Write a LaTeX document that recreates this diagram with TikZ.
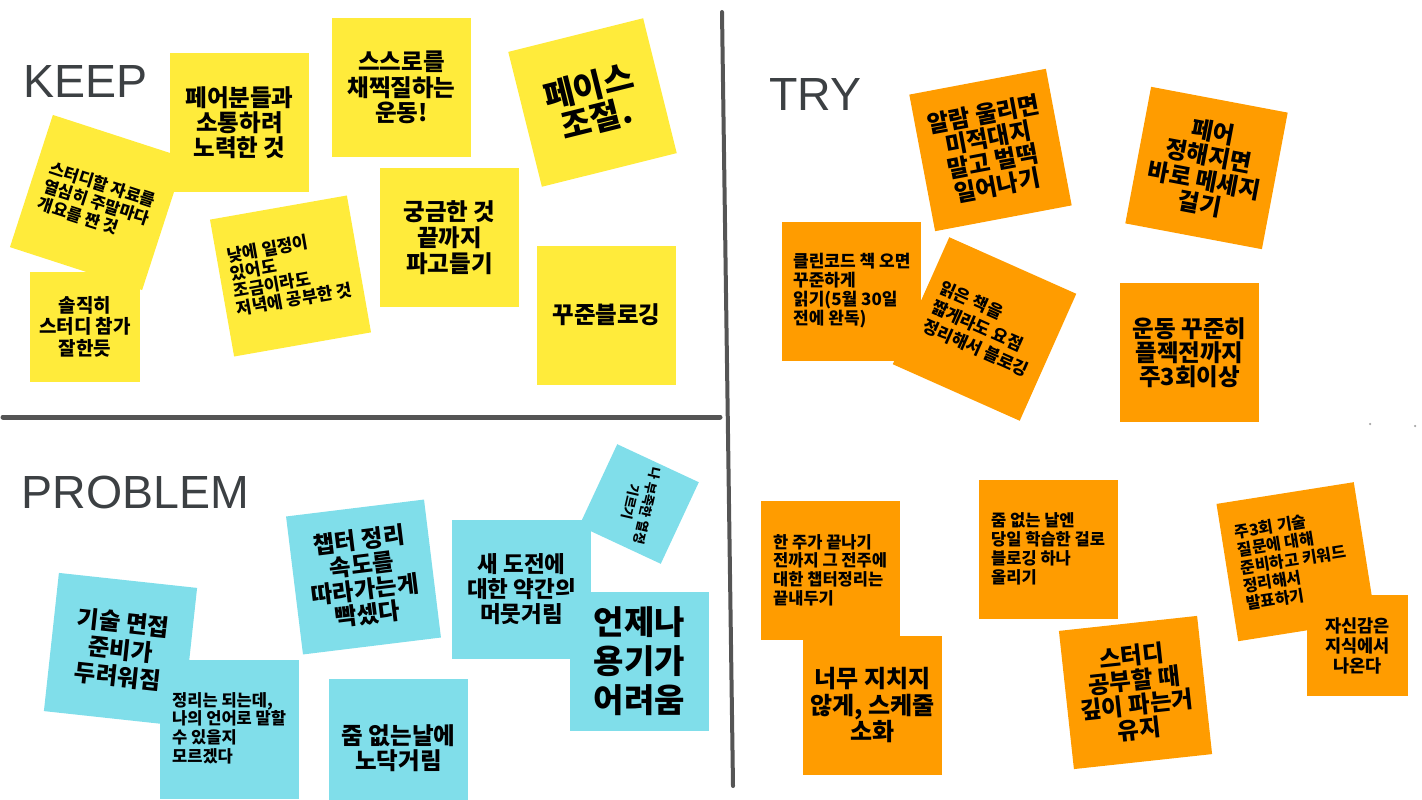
\documentclass[tikz,border=0pt]{standalone}
\usepackage{fontspec}
\setmainfont{Noto Sans CJK KR}
\newfontfamily\titlefont{Liberation Sans}
\definecolor{ky}{HTML}{FFEB3B}
\definecolor{to}{HTML}{FF9C00}
\definecolor{pc}{HTML}{80DEEA}
\definecolor{ttl}{HTML}{3C4043}
\definecolor{divc}{HTML}{555555}
\newcommand\nfs[2]{\fontsize{#1}{#2}\selectfont}
\tikzset{
  sticky/.style={minimum size=139pt, inner sep=0pt, outer sep=0pt, align=center, font=\bfseries},
  ltext/.style={align=left, inner sep=0pt, anchor=west},
  title/.style={font=\titlefont\nfs{46.5}{50}, text=ttl, anchor=base west, inner sep=0pt},
  divider/.style={draw=divc, line width=4pt, line cap=round},
}
\begin{document}
\begin{tikzpicture}[x=1pt,y=-1pt]
\useasboundingbox (0,0) rectangle (1422,800);
\clip (0,0) rectangle (1422,800);
% dividers
\coordinate (vtop) at (722,12);
\coordinate (vbot) at (733,786);
\draw[divider] (vtop) -- (vbot);
\coordinate (hl) at (3,417);
\coordinate (hr) at (720,417);
\draw[divider, line width=5pt] (hl) -- (hr);
% titles
\node[title] (keep) at (23.5,97) {KEEP};
\node[title] (try) at (769,110.5) {TRY};
\node[title] (problem) at (21.5,508.3) {PROBLEM};
% ---------- KEEP ----------
\node[sticky, fill=ky, font=\bfseries\nfs{23.5}{25}] (k1) at (239.5,122.5) {페어분들과\\소통하려\\노력한 것};
\begin{scope}[shift={(97.5,202.5)}, rotate=-18, transform shape]
  \node[sticky, fill=ky] (k2) at (0,0) {};
  \node[ltext, font=\bfseries\nfs{16.5}{18.5}] (k2t) at (-56,0) {스터디할 자료를\\열심히 주말마다\\개요를 짠 것};
\end{scope}
\node[sticky, fill=ky, minimum size=110pt, font=\bfseries\nfs{19}{21.5}] (k3) at (85,326.5) {솔직히\\스터디 참가\\잘한듯};
\node[sticky, fill=ky, font=\bfseries\nfs{23.5}{25.5}] (k4) at (401.5,87.5) {스스로를\\채찍질하는\\운동!};
\begin{scope}[shift={(592.5,102.5)}, rotate=14, transform shape]
  \node[sticky, fill=ky, font=\bfseries\nfs{33}{33.5}] (k5) at (0,0) {페이스\\조절.};
\end{scope}
\begin{scope}[shift={(290.5,276)}, rotate=10, transform shape]
  \node[sticky, fill=ky] (k6) at (0,0) {};
  \node[ltext, font=\bfseries\nfs{17}{18}] (k6t) at (-59,-3.4) {낮에 일정이\\있어도\\조금이라도\\저녁에 공부한 것};
\end{scope}
\node[sticky, fill=ky, font=\bfseries\nfs{23.5}{26}] (k7) at (449.5,237.5) {궁금한 것\\끝까지\\파고들기};
\node[sticky, fill=ky, font=\bfseries\nfs{23.5}{25}] (k8) at (606.5,315) {꾸준블로깅};
% ---------- TRY ----------
\begin{scope}[shift={(990.5,150)}, rotate=10.7, transform shape]
  \node[sticky, fill=to, font=\bfseries\nfs{23.5}{24}] (t1) at (0,0) {알람 울리면\\미적대지\\말고 벌떡\\일어나기};
\end{scope}
\begin{scope}[shift={(1206.5,168)}, rotate=-10.7, transform shape]
  \node[sticky, fill=to, font=\bfseries\nfs{23.5}{24.5}] (t2) at (0,0) {페어\\정해지면\\바로 메세지\\걸기};
\end{scope}
\node[sticky, fill=to] (t3) at (851.5,291.5) {};
\node[ltext, font=\bfseries\nfs{17}{19}] (t3t) at (793,290.5) {클린코드 책 오면\\꾸준하게\\읽기(5월 30일\\전에 완독)};
\begin{scope}[shift={(984.5,329)}, rotate=-24, transform shape]
  \node[sticky, fill=to] (t4) at (0,0) {};
  \node[ltext, font=\bfseries\nfs{17}{21}] (t4t) at (-57,0) {읽은 책을\\짧게라도 요점\\정리해서 블로깅};
\end{scope}
\node[sticky, fill=to, font=\bfseries\nfs{23.5}{24}] (t5) at (1189.5,352.5) {운동 꾸준히\\플젝전까지\\주3회이상};
\node[sticky, fill=to] (t6) at (830.5,570) {};
\node[ltext, font=\bfseries\nfs{16.5}{18.7}] (t6t) at (773,570) {한 주가 끝나기\\전까지 그 전주에\\대한 챕터정리는\\끝내두기};
\node[sticky, fill=to, font=\bfseries\nfs{24}{26.5}] (t7) at (872.5,705.5) {너무 지치지\\않게, 스케줄\\소화};
\node[sticky, fill=to] (t8) at (1048.5,549.5) {};
\node[ltext, font=\bfseries\nfs{16.5}{19}] (t8t) at (991,548.7) {줌 없는 날엔\\당일 학습한 걸로\\블로깅 하나\\올리기};
\begin{scope}[shift={(1135.5,692.5)}, rotate=6.2, transform shape]
  \node[sticky, fill=to, font=\bfseries\nfs{23.5}{24.5}] (t9) at (0,0) {스터디\\공부할 때\\깊이 파는거\\유지};
\end{scope}
\begin{scope}[shift={(1296,561.7)}, rotate=9, transform shape]
  \node[sticky, fill=to] (t10) at (0,0) {};
  \node[ltext, font=\bfseries\nfs{16}{18.1}] (t10t) at (-56,-2.2) {주3회 기술\\질문에 대해\\준비하고 키워드\\정리해서\\발표하기};
\end{scope}
\node[sticky, fill=to, minimum size=101pt, font=\bfseries\nfs{17.5}{20}] (t11) at (1357.5,645.5) {자신감은\\지식에서\\나온다};
\node[circle, fill=gray!70, inner sep=0pt, minimum size=2.5pt] (d1) at (1370,424) {};
\node[circle, fill=gray!70, inner sep=0pt, minimum size=2.5pt] (d2) at (1415,426) {};
% ---------- PROBLEM ----------
\begin{scope}[shift={(120.5,649.5)}, rotate=-6.2, transform shape]
  \node[sticky, fill=pc, font=\bfseries\nfs{23.5}{27}] (p1) at (0,0) {기술 면접\\준비가\\두려워짐};
\end{scope}
\node[sticky, fill=pc] (p2) at (229.5,729.5) {};
\node[ltext, font=\bfseries\nfs{16.5}{18.7}] (p2t) at (172,728) {정리는 되는데,\\나의 언어로 말할\\수 있을지\\모르겠다};
\begin{scope}[shift={(363.5,577)}, rotate=7, transform shape]
  \node[sticky, fill=pc, font=\bfseries\nfs{23.5}{25}] (p3) at (0,0) {챕터 정리\\속도를\\따라가는게\\빡셌다};
\end{scope}
\node[sticky, fill=pc, font=\bfseries\nfs{23.5}{25}] (p4) at (398.5,748.5) {줌 없는날에\\노닥거림};
\begin{scope}[shift={(639,504)}, rotate=-25, transform shape]
  \node[sticky, fill=pc, minimum size=90pt] (p5) at (0,0) {};
  \node[align=center, inner sep=0pt, rotate=-78, font=\bfseries\nfs{13}{17}] (p5t) at (0,0) {나 부족한 열정\\기르기};
\end{scope}
\node[sticky, fill=pc, font=\bfseries\nfs{22.5}{25}] (p6) at (521.5,589.5) {새 도전에\\대한 약간의\\머뭇거림};
\node[sticky, fill=pc, font=\bfseries\nfs{33}{39}] (p7) at (639.5,661.5) {언제나\\용기가\\어려움};
\end{tikzpicture}
\end{document}
